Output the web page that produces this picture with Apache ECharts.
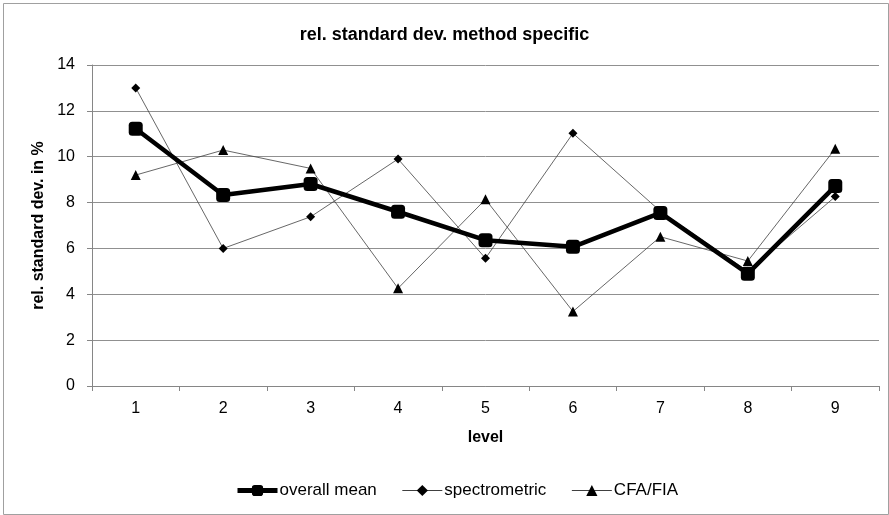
<!DOCTYPE html>
<html>
<head>
<meta charset="utf-8">
<script src="https://cdn.jsdelivr.net/npm/echarts@6/dist/echarts.min.js"></script>
<style>
html,body{margin:0;padding:0;background:#fff;}
#chart{width:889px;height:515px;}
</style>
</head>
<body>
<div id="chart"></div>
<script>
const categories = ['1','2','3','4','5','6','7','8','9'];
const overallMean = [11.22, 8.33, 8.81, 7.6, 6.36, 6.07, 7.55, 4.9, 8.72];
const spectrometric = [13.0, 6.0, 7.38, 9.9, 5.57, 11.02, 7.62, 5.0, 8.26];
const cfaFia = [9.2, 10.29, 9.49, 4.26, 8.14, 3.25, 6.51, 5.45, 10.35];
const yTicks = [0, 2, 4, 6, 8, 10, 12, 14];

const FONT = "'Liberation Sans', Arial, sans-serif";
const chart = echarts.init(document.getElementById('chart'));
chart.setOption({
  animation: false,
  backgroundColor: '#fff',
  textStyle: { fontFamily: FONT },
  graphic: [{
    type: 'rect', left: 1, top: 1,
    shape: { width: 885, height: 511 },
    style: { fill: 'none', stroke: '#a0a0a0', lineWidth: 1 },
    silent: true
  }],
  title: {
    text: 'rel. standard dev. method specific',
    left: 'center', top: 21,
    textStyle: { fontFamily: FONT, fontSize: 18, fontWeight: 'bold', color: '#000' }
  },
  legend: {
    bottom: 11, left: 230,
    itemGap: 25, itemWidth: 40, itemHeight: 14,
    textStyle: { fontFamily: FONT, fontSize: 17, color: '#000', padding: [0, 0, 0, -3] },
    data: [
      { name: 'overall mean', lineStyle: { width: 5, color: '#000' } },
      { name: 'spectrometric', lineStyle: { width: 1, color: '#404040' } },
      { name: 'CFA/FIA', lineStyle: { width: 1, color: '#404040' } }
    ]
  },
  grid: { left: 92, right: 10, top: 65, bottom: 129, containLabel: false },
  xAxis: {
    type: 'category', data: categories, boundaryGap: true,
    name: 'level', nameLocation: 'middle', nameGap: 44,
    nameTextStyle: { fontFamily: FONT, fontSize: 16, fontWeight: 'bold', color: '#000' },
    axisLine: { lineStyle: { color: '#868686', width: 1 } },
    axisTick: { show: true, length: 5, alignWithLabel: false, lineStyle: { color: '#868686' } },
    axisLabel: { fontFamily: FONT, fontSize: 16, color: '#000', margin: 15 }
  },
  yAxis: {
    type: 'value', min: yTicks[0], max: yTicks[yTicks.length - 1], interval: 2,
    name: 'rel. standard dev. in %', nameLocation: 'middle', nameGap: 42,
    nameTextStyle: { fontFamily: FONT, fontSize: 16, fontWeight: 'bold', color: '#000' },
    axisLine: { show: true, lineStyle: { color: '#868686', width: 1 } },
    axisTick: { show: true, length: 5, lineStyle: { color: '#868686' } },
    axisLabel: { fontFamily: FONT, fontSize: 16, color: '#000', margin: 17 },
    splitLine: { lineStyle: { color: '#909090', width: 1 } }
  },
  series: [
    {
      name: 'spectrometric', type: 'line', data: spectrometric, z: 3,
      symbol: 'diamond', symbolSize: 9,
      lineStyle: { color: '#404040', width: 0.8 },
      itemStyle: { color: '#000' }
    },
    {
      name: 'CFA/FIA', type: 'line', data: cfaFia, z: 3,
      symbol: 'triangle', symbolSize: 10,
      lineStyle: { color: '#404040', width: 0.8 },
      itemStyle: { color: '#000' }
    },
    {
      name: 'overall mean', type: 'line', data: overallMean, z: 5,
      symbol: 'roundRect', symbolSize: 14,
      lineStyle: { color: '#000', width: 4.5 },
      itemStyle: { color: '#000' }
    }
  ]
});
</script>
</body>
</html>
